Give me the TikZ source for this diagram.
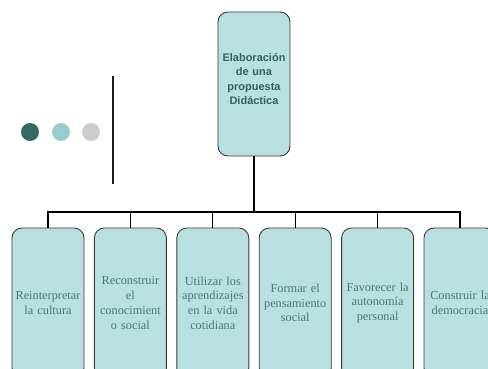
\documentclass[tikz,border=0pt]{standalone}
\usepackage{fontspec}
\setmainfont{Liberation Serif}
\newfontfamily\arialf{Liberation Sans}
\definecolor{boxfill}{HTML}{B9E0E1}
\definecolor{boxline}{HTML}{3A3A3A}
\definecolor{toptext}{HTML}{2E6361}
\definecolor{childtext}{HTML}{4A7876}
\definecolor{dotA}{HTML}{336966}
\definecolor{dotB}{HTML}{99CCCC}
\definecolor{dotC}{HTML}{CCCCCC}
\tikzset{
  box/.style={draw=boxline, line width=0.9pt, fill=boxfill, rounded corners=10pt, inner sep=0pt},
  topbox/.style={box, minimum width=72pt, minimum height=144pt},
  toplabel/.style={text width=72pt, align=center, inner sep=0pt,
     font=\arialf\bfseries\fontsize{11}{14.3}\selectfont, text=toptext},
  childbox/.style={box, minimum width=71pt, minimum height=150pt, text width=72pt, align=center,
     font=\fontsize{12.3}{14.7}\selectfont, text=childtext},
  conn/.style={line width=1.2pt, black},
  dot/.style={circle, minimum size=18pt, inner sep=0pt}
}
\begin{document}
\begin{tikzpicture}[x=1pt,y=-1pt]
\useasboundingbox (0,0) rectangle (488,369);
\clip (0,0) rectangle (488,369);
\node[topbox] (top) at (254,84) {};
\node[toplabel] (toptxt) at (254,79) {Elaboración\\de una\\propuesta\\Didáctica};
\node[childbox] (c1) at (48,303) {Reinterpretar\\la cultura};
\node[childbox] (c2) at (130.4,303) {Reconstruir\\el\\conocimient\\o social};
\node[childbox] (c3) at (212.8,303) {Utilizar los\\aprendizajes\\en la vida\\cotidiana};
\node[childbox] (c4) at (295.2,303) {Formar el\\pensamiento\\social};
\node[childbox] (c5) at (377.6,303) {Favorecer la\\autonomía\\personal};
\node[childbox] (c6) at (460,303) {Construir la\\democracia};
\coordinate (bus) at (254,212);
\draw[line width=1.8pt] (top.south) -- (bus);
\foreach \c in {c1,c2,c3,c4,c5,c6}{
  \draw[conn] (bus) -| (\c.north);
}
\node[dot, fill=dotA] (d1) at (30,132) {};
\node[dot, fill=dotB] (d2) at (61,132) {};
\node[dot, fill=dotC] (d3) at (91,132) {};
\coordinate (vt) at (113,76);
\coordinate (vb) at (113,184);
\draw[line width=1.8pt, black!90] (vt) -- (vb);
\end{tikzpicture}
\end{document}
